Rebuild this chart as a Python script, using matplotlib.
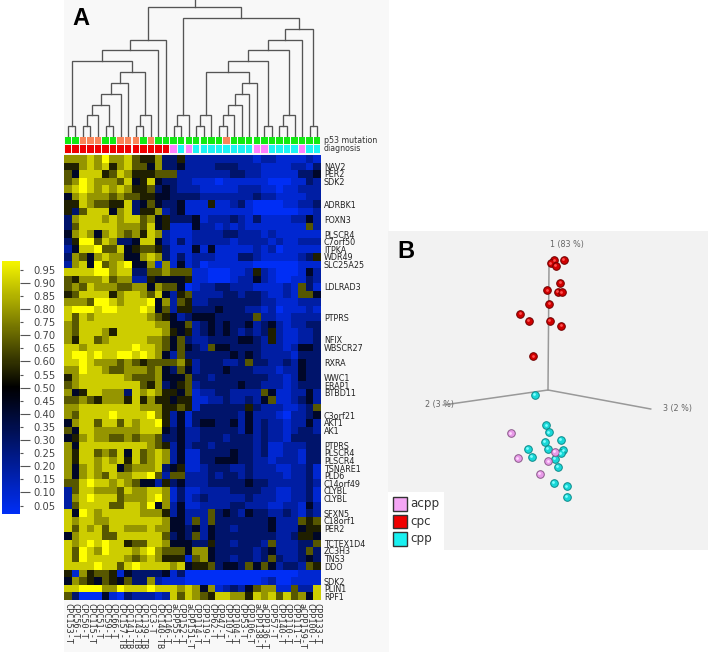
import matplotlib
matplotlib.use("Agg")
import matplotlib.pyplot as plt
import numpy as np
from matplotlib.colors import LinearSegmentedColormap
from matplotlib.patches import Rectangle

W, H = 709, 665

# heatmap cells, one digit per cell, digit is a step in heat_levels
heat_levels = [0.02, 0.09, 0.18, 0.29, 0.42, 0.56, 0.67, 0.79, 0.90, 1.0]
heat_rows = [
    "77787977865573" "35222222222122111121",
    "55787857866473" "34222233322211112213",
    "64888568755566" "62222222332211111334",
    "67987776845843" "32211101111110001132",
    "78987878755634" "32221111122211011222",
    "47877767665544" "33332222222322111122",
    "55876655834643" "34111511231000011223",
    "53688847835572" "34111111111000000112",
    "37888787886745" "33341222321311112242",
    "36888887776845" "11142212121111111162",
    "47874787675872" "11122223322212111111",
    "35996873348842" "13122222122221211222",
    "24889668456653" "11141411111212011111",
    "37647877447873" "13122211133211111235",
    "27849678944717" "14120111111000000111",
    "88889978833667" "66611000112521000142",
    "65777867722544" "44511000122421001132",
    "67687776677476" "64012233222111121631",
    "56888857887684" "25622223323321121664",
    "77769987888947" "26522333333322111222",
    "89998998889846" "25533343332212011121",
    "86878888888765" "42344433333622112222",
    "76888888888877" "44623434334234212233",
    "76888758888887" "54523434323235211223",
    "75886788888776" "46322333344325211223",
    "88788888898876" "46432644333322212443",
    "89989889989874" "26333333434322221333",
    "88987776765666" "67523332236332232433",
    "77988766777674" "36423334333222122433",
    "57888888766674" "44633233333332212433",
    "67888888886573" "45623333343322212333",
    "74588777387875" "54612233222264112242",
    "66765777585755" "45511223223246112342",
    "77888888887775" "56513333335322211236",
    "76888898888975" "24133333324222102234",
    "47886886878895" "24134433424232212242",
    "64887777778884" "34223333324232212332",
    "45787766767763" "34223332333232213333",
    "74888888888765" "24233233333231122233",
    "75886768486787" "24113333433231122133",
    "75887878586787" "24113344433221222133",
    "74787884677783" "45112333223222112231",
    "74787687788962" "66222323323222212231",
    "66898878764425" "34222333334332222232",
    "26887776877887" "13112222333322112231",
    "27898886777897" "13123222223222112231",
    "26888866887947" "24112222332221122142",
    "84987888887775" "24222634324332232132",
    "87887788888887" "44262633333334222656",
    "86878688777877" "44342433233334222455",
    "47888668888886" "34362433333333223554",
    "87898988566887" "44433533233326222336",
    "86987988878976" "66477433333234222363",
    "86988888767875" "55167433233236322343",
    "88889886898888" "78455634436464233265",
    "51756651433334" "13000000000000000111",
    "47654654633721" "11000000000012001111",
    "88999779888988" "87874712324677116228",
    "63000410322212" "86876588775878686748",
]

samples = ["CPC153-T", "CPC56-T", "CPC50-T", "CPC115-T", "CPC51-T", "CPC59-T", "CPC66-T",
           "CPC157-TB", "CPC141-TB", "CPC143-TB", "CPC139-TB", "CPC3-T", "CPC140-TB", "CPC146-T",
           "aCPP55-T", "CPP152-T", "aCPP151-T", "CPP114-T", "CPP119-T", "CPP62-T", "CPP47-T",
           "CPP107-T", "CPP104-T", "CPP53-T", "CPP106-T", "aCPP138-T", "aCPP136-T", "CPP57-T",
           "CPP140-T", "CPP110-T", "CPP111-T", "aCPP159-T", "CPP100-T", "CPP133-T"]

gene_rows = [1, 2, 3, 6, 8, 10, 11, 12, 13, 14, 17, 21, 24, 25, 27, 29, 30, 31, 34, 35, 36,
             38, 39, 40, 41, 42, 43, 44, 45, 47, 48, 49, 51, 52, 53, 54, 56, 57, 58]
gene_names = ["NAV2", "PER2", "SDK2", "ADRBK1", "FOXN3", "PLSCR4", "C7orf50", "ITPKA", "WDR49",
              "SLC25A25", "LDLRAD3", "PTPRS", "NFIX", "WBSCR27", "RXRA", "WWC1", "ERAP1", "BTBD11",
              "C3orf21", "AKT1", "AK1", "PTPRS", "PLSCR4", "PLSCR4", "TSNARE1", "PLD6", "C14orf49",
              "CLYBL", "CLYBL", "SFXN5", "C18orf1", "PER2", "TCTEX1D4", "ZC3H3", "TNS3", "DDO",
              "SDK2", "PLIN1", "RPF1"]

# g = wild type, o = mutated
p53_status = "ggoooggooogogg" "gggggggogggggggggggg"
# r = cpc, p = acpp, c = cpp
diagnosis = "rrrrrrrrrrrrrr" "pcpccccccccppccccpcc"

# dendrogram merges: node a, node b, height. Leaves are 0-33, merges count on from 34
merges = [(0, 1, 11), (2, 3, 11), (35, 4, 22), (5, 6, 11), (36, 37, 32), (38, 7, 43), (39, 8, 54),
          (9, 10, 11), (41, 11, 22), (40, 42, 65), (34, 43, 76), (44, 12, 87), (45, 13, 97),
          (14, 15, 11), (47, 16, 22), (17, 18, 11), (49, 19, 22), (20, 21, 11), (51, 22, 22),
          (52, 23, 32), (53, 24, 43), (54, 25, 54), (50, 55, 65), (26, 27, 11), (56, 57, 76),
          (28, 29, 11), (59, 30, 22), (58, 60, 87), (61, 31, 97), (32, 33, 11), (62, 63, 108),
          (48, 64, 119), (46, 65, 130)]
root_top = 137

cbar_major = [0.10, 0.20, 0.30, 0.40, 0.50, 0.60, 0.70, 0.80, 0.90]
cbar_minor = [0.05, 0.15, 0.25, 0.35, 0.45, 0.55, 0.65, 0.75, 0.85, 0.95]

# panel B points, picture coordinates
cpc_x = [563.7, 554.3, 550.7, 556, 560.3, 547.3, 558, 562, 549.3, 520.3, 529, 550, 561.3, 533.3]
cpc_y = [260, 260.3, 263.3, 265.7, 283, 290.3, 292, 292.3, 304, 314, 321, 320.7, 325.7, 356.3]
cpp_x = [534.7, 546.3, 548.7, 560.7, 544.7, 547.7, 528, 563.3, 560.7, 531.7, 554.7, 558, 554, 566.7, 566.7]
cpp_y = [394.7, 425.3, 432.3, 440, 442, 449, 449, 450.3, 453.3, 456.7, 458.7, 467, 482.7, 486.3, 496.7]
acpp_x = [510.7, 554.7, 517.7, 548.3, 539.7]
acpp_y = [433.3, 452, 458.3, 461.3, 474]

pca_origin = (548, 390)
pca_ends = [(549, 266.7), (443.3, 405), (650.7, 409)]
pca_labels = ["1 (83 %)", "2 (3 %)", "3 (2 %)"]
pca_label_pos = [(566.7, 244), (440, 405), (677.7, 408.5)]

legend_names = ["acpp", "cpc", "cpp"]
legend_colors = ["#F5A6F5", "#F00000", "#19F0F0"]
legend_tops = [497, 514.7, 532]

p53_colors = {"g": "#12EA12", "o": "#FA8458"}
diag_colors = {"r": "#F00000", "p": "#FF80FF", "c": "#1CF5F5"}


def box(x0, y0, x1, y1):
    # axes from a box given in picture pixels
    return fig.add_axes([x0 / W, 1 - y1 / H, (x1 - x0) / W, (y1 - y0) / H])


fig = plt.figure(figsize=(W / 100, H / 100), dpi=100, facecolor="white")
cmap = LinearSegmentedColormap.from_list("byb", ["#0030FF", "#000000", "#FFFF00"])

# light panel behind A
bg = box(64, 0, 389, 652)
bg.set_facecolor("#F8F8F8")
bg.set_xticks([])
bg.set_yticks([])
for s in bg.spines.values():
    s.set_visible(False)

# dendrogram
ax = box(64, 0, 321, 137)
ax.axis("off")
ax.set_xlim(-0.5, 33.5)
ax.set_ylim(0, 137)
pos = {i: (float(i), 0.0) for i in range(34)}
for k, (a, b, h) in enumerate(merges):
    xa, ya = pos[a]
    xb, yb = pos[b]
    ax.plot([xa, xa, xb, xb], [ya, h, h, yb], color="#555555", lw=0.95, solid_joinstyle="miter")
    pos[34 + k] = ((xa + xb) / 2, h)
ax.plot([pos[66][0]] * 2, [pos[66][1], root_top], color="#555555", lw=0.95)

# annotation rows
ax = box(64, 136.5, 321, 153)
ax.axis("off")
ax.set_xlim(-0.5, 33.5)
ax.set_ylim(2.02, 0)
xs = np.arange(34)
ax.bar(xs, 0.86, bottom=0.0, width=0.85, color=[p53_colors[c] for c in p53_status])
ax.bar(xs, 0.95, bottom=1.05, width=0.85, color=[diag_colors[c] for c in diagnosis])
ax.text(33.9, 0.45, "p53 mutation", fontsize=5.7, color="#333333", va="center", clip_on=False)
ax.text(33.9, 1.5, "diagnosis", fontsize=5.7, color="#333333", va="center", clip_on=False)

# heatmap
ax = box(64, 155, 321, 600)
cells = np.array([[heat_levels[int(c)] for c in row] for row in heat_rows])
ax.imshow(cells, cmap=cmap, vmin=0, vmax=1, aspect="auto", interpolation="nearest")
for s in ax.spines.values():
    s.set_visible(False)
ax.yaxis.tick_right()
ax.set_yticks(gene_rows, gene_names, fontsize=5.8, color="#222222")
ax.set_xticks(xs, samples, rotation=270, fontsize=6.1, color="#333333", family="DejaVu Sans Mono")
ax.tick_params(length=0, pad=2)

# colour bar
ax = box(2, 260.7, 20, 514)
ax.imshow(np.linspace(0.984, 0.018, 256).reshape(-1, 1), cmap=cmap, vmin=0, vmax=1,
          aspect="auto", extent=[0, 1, 0.018, 0.984])
for s in ax.spines.values():
    s.set_visible(False)
ax.set_xticks([])
ax.yaxis.tick_right()
ax.set_yticks(cbar_major, [f"{v:.2f}" for v in cbar_major])
ax.set_yticks(cbar_minor, [f"{v:.2f}" for v in cbar_minor], minor=True)
ax.tick_params(which="major", length=7.2, pad=2.2, width=0.8, color="#555555",
               labelsize=7.2, labelcolor="#444444")
ax.tick_params(which="minor", length=2.2, pad=7.2, width=0.8, color="#555555",
               labelsize=7.2, labelcolor="#444444")

# panel B
ax = box(388, 231, 708, 550)
ax.set_xlim(388, 708)
ax.set_ylim(550, 231)
ax.set_facecolor("#F2F2F2")
ax.set_xticks([])
ax.set_yticks([])
for s in ax.spines.values():
    s.set_visible(False)
for end in pca_ends:
    ax.plot([pca_origin[0], end[0]], [pca_origin[1], end[1]], color="#999999", lw=1.1, zorder=1)
for name, p in zip(pca_labels, pca_label_pos):
    ax.text(p[0], p[1], name, fontsize=5.8, color="#666666", ha="center", va="center", zorder=2)
groups = [(cpc_x, cpc_y, "#D00000", "#6E0000", "#FF5050"),
          (cpp_x, cpp_y, "#18D8D8", "#0C8A8A", "#80FFFF"),
          (acpp_x, acpp_y, "#E89AE8", "#8A5A8A", "#FFD8FF")]
for gx, gy, col, edge, light in groups:
    ax.scatter(gx, gy, s=30, color=col, edgecolors=edge, linewidths=0.7, zorder=3)
    ax.scatter(np.array(gx) - 0.8, np.array(gy) - 0.8, s=4, color=light, linewidths=0, zorder=4)
ax.add_patch(Rectangle((388, 492), 56, 58, facecolor="white", edgecolor="none", zorder=5))
for name, col, top in zip(legend_names, legend_colors, legend_tops):
    ax.add_patch(Rectangle((393, top), 14, 13.5, facecolor=col, edgecolor="#333333", lw=1, zorder=6))
    ax.text(410, top + 6.5, name, fontsize=8.6, color="#333333", va="center", zorder=6)

fig.text(72 / W, 1 - 25 / H, "A", fontsize=17, fontweight="bold", family="Liberation Sans", color="black")
fig.text(397 / W, 1 - 258 / H, "B", fontsize=17, fontweight="bold", family="Liberation Sans", color="black")

fig.savefig("out.png", dpi=100)
